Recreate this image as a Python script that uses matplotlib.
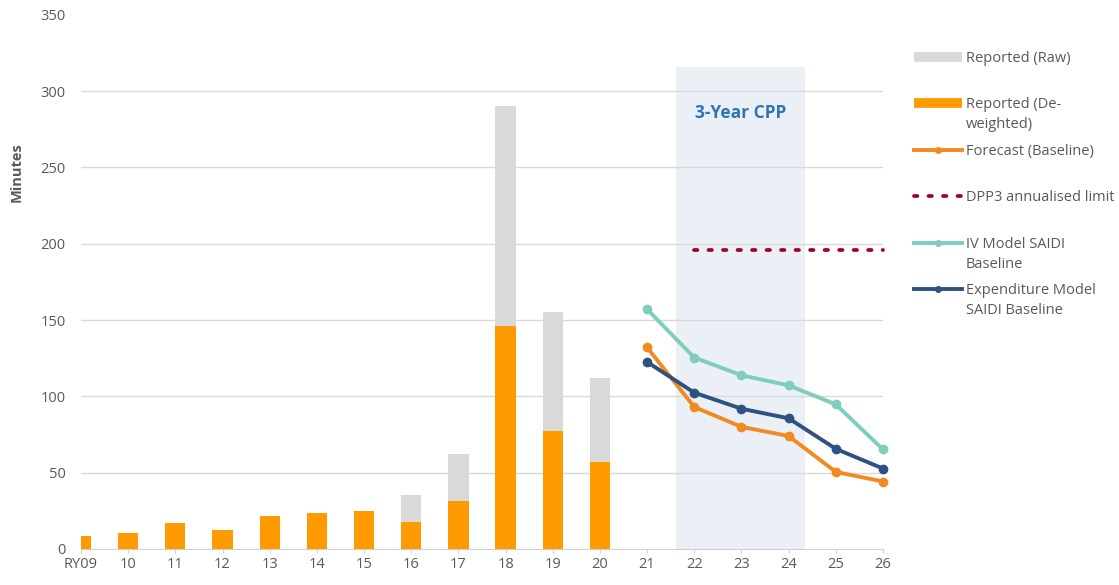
import matplotlib
matplotlib.use("Agg")
import matplotlib.pyplot as plt
from matplotlib.lines import Line2D
import numpy as np

plt.rcParams['font.family'] = ['Open Sans', 'DejaVu Sans']

categories = ["RY09", "10", "11", "12", "13", "14", "15", "16", "17", "18", "19", "20",
              "21", "22", "23", "24", "25", "26"]
reported_raw = [8.5, 10.7, 16.8, 12.7, 21.3, 23.4, 24.6, 35.4, 62.2, 290.5, 155.0, 112.0,
                None, None, None, None, None, None]
reported_deweighted = [8.5, 10.7, 16.8, 12.7, 21.3, 23.4, 24.6, 17.5, 31.7, 145.9, 77.5, 56.8,
                       None, None, None, None, None, None]
forecast_baseline = [None] * 12 + [132.0, 93.0, 80.0, 74.0, 50.5, 44.2]
dpp3_limit = [None] * 13 + [196.0, 196.0, 196.0, 196.0, 196.0]
iv_model = [None] * 12 + [157.0, 125.4, 113.8, 107.2, 94.7, 65.2]
expenditure_model = [None] * 12 + [122.5, 102.4, 91.9, 85.6, 65.6, 52.7]
cpp_span = (12.62, 15.35)
cpp_top = 315.6

C_GRAY = "#d9d9d9"
C_BAR = "#ff9a00"
C_FC = "#f28a22"
C_DPP = "#a3002e"
C_IV = "#7ecdbd"
C_EXP = "#2f5181"
C_TXT = "#595959"
FS = 10.5

def arr(v):
    return np.array([np.nan if x is None else x for x in v], dtype=float)

W, H = 1119, 585
fig = plt.figure(figsize=(W/100, H/100), dpi=100)
ax = fig.add_axes([81/W, 1-549/H, (883-81)/W, (549-14.7)/H])

x = np.arange(len(categories))

# CPP shaded region
ax.fill_between([cpp_span[0], cpp_span[1]], 0, cpp_top, color="#ebf0f7", zorder=0, linewidth=0)
ax.text((cpp_span[0]+cpp_span[1])/2, 285.5, "3-Year CPP", ha="center", va="center",
        fontsize=12.5, fontweight="bold", color="#2e75b6", zorder=1)

raw = arr(reported_raw)
dew = arr(reported_deweighted)
w = 0.43
ax.bar(x, raw, width=w, color=C_GRAY, zorder=2)
ax.bar(x, dew, width=w, color=C_BAR, zorder=3)

dots = (0, (0.9, 2.97))
ax.plot(x, arr(dpp3_limit), color=C_DPP, linestyle=dots, linewidth=2.7,
        dash_capstyle="round", zorder=4, clip_on=False)
ax.plot(x, arr(iv_model), color=C_IV, lw=2.8, marker="o", ms=6, zorder=5, clip_on=False)
ax.plot(x, arr(forecast_baseline), color=C_FC, lw=2.8, marker="o", ms=6, zorder=6, clip_on=False)
ax.plot(x, arr(expenditure_model), color=C_EXP, lw=2.8, marker="o", ms=6, zorder=7, clip_on=False)

ax.set_xlim(0, len(categories) - 1)
ax.set_ylim(0, 350)
ax.set_yticks(np.arange(0, 351, 50))
ax.set_xticks(x)
ax.set_xticklabels(categories)
ax.tick_params(axis="y", colors=C_TXT, labelsize=FS, length=0, pad=11)
ax.tick_params(axis="x", colors="#d0d0d0", labelcolor=C_TXT, labelsize=FS, length=3, pad=3)
ax.yaxis.grid(True, color="#d9d9d9", linewidth=1.0, zorder=0)
ax.set_axisbelow(True)
gl = ax.get_ygridlines()
gl[0].set_visible(False)
gl[-1].set_visible(False)
for s in ["top", "right", "left"]:
    ax.spines[s].set_visible(False)
ax.spines["bottom"].set_color("#d0d0d0")
ax.set_ylabel("Minutes", fontsize=10.5, fontweight="bold", color=C_TXT)
ax.yaxis.set_label_coords((24 - 81) / (883 - 81), (549 - 172) / (549 - 14.7))

# Legend (drawn manually: evenly spaced entries, handle aligned with first text line)
handles = [
    dict(color=C_GRAY, lw=7, solid_capstyle="butt"),
    dict(color=C_BAR, lw=7, solid_capstyle="butt"),
    dict(color=C_FC, lw=2.8),
    dict(color=C_DPP, lw=2.7, linestyle=dots, dash_capstyle="round"),
    dict(color=C_IV, lw=2.8),
    dict(color=C_EXP, lw=2.8),
]
has_marker = [False, False, True, False, True, True]
labels = ["Reported (Raw)", "Reported (De-\nweighted)", "Forecast (Baseline)",
          "DPP3 annualised limit", "IV Model SAIDI\nBaseline", "Expenditure Model\nSAIDI Baseline"]
y0, step, pitch = 57, 46.4, 20
hx0, hx1, tx = 914, 962, 966
for i, (hd, mk, lab) in enumerate(zip(handles, has_marker, labels)):
    yp = y0 + step * i
    yf = 1 - yp / H
    fig.add_artist(Line2D([hx0 / W, hx1 / W], [yf, yf], transform=fig.transFigure, **hd))
    if mk:
        fig.add_artist(Line2D([(hx0 + hx1) / 2 / W], [yf], transform=fig.transFigure,
                              color=hd["color"], marker="o", ms=4, lw=0))
    for k, line in enumerate(lab.split("\n")):
        fig.text(tx / W, 1 - (yp + 5 + pitch * k) / H, line, fontsize=FS, color=C_TXT,
                 ha="left", va="baseline")

fig.savefig("out.png", dpi=100)
